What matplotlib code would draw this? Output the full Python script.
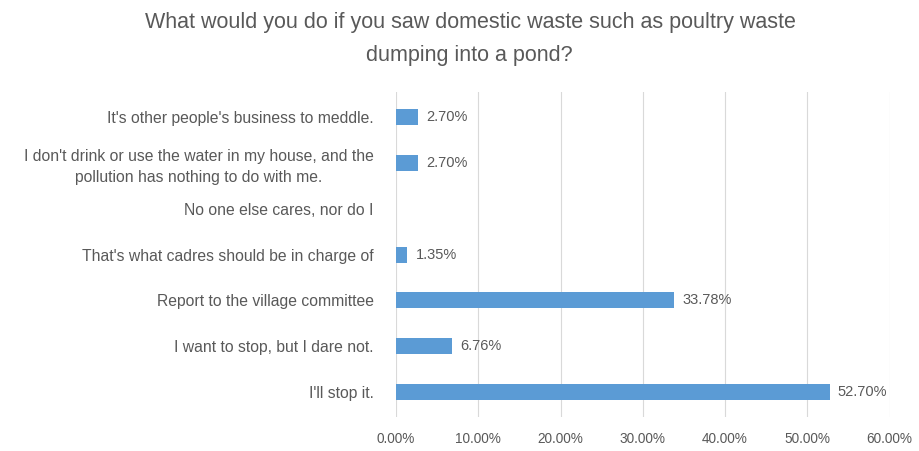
import matplotlib.pyplot as plt
from matplotlib.ticker import FuncFormatter

# respostas (de cima para baixo)
categorias = [
    "It's other people's business to meddle.",
    "I don't drink or use the water in my house, and the\npollution has nothing to do with me.",
    "No one else cares, nor do I",
    "That's what cadres should be in charge of",
    "Report to the village committee",
    "I want to stop, but I dare not.",
    "I'll stop it.",
]
valores = [2.70, 2.70, 0.0, 1.35, 33.78, 6.76, 52.70]
rotulos = ["2.70%", "2.70%", None, "1.35%", "33.78%", "6.76%", "52.70%"]

cinza = "#595959"
plt.rcParams['font.family'] = ['Liberation Sans', 'DejaVu Sans']

fig = plt.figure(figsize=(9.19, 4.51), dpi=100)
ax = fig.add_axes([0.431, 0.075, 0.537, 0.721])

y = range(len(categorias))
ax.barh(y, valores, height=0.35, color="#5B9BD5", zorder=3)
for i, (v, r) in enumerate(zip(valores, rotulos)):
    if r:
        ax.text(v + 1.0, i, r, va="center", ha="left", fontsize=10.5, color=cinza)

ax.set_yticks(list(y))
ax.set_yticklabels(categorias, fontsize=11.3, color=cinza, ha="right",
                   multialignment="center", linespacing=1.5)
ax.set_ylim(6.55, -0.55)
ax.set_xlim(0, 60)
ax.set_xticks(range(0, 61, 10))
ax.xaxis.set_major_formatter(FuncFormatter(lambda v, p: f"{v:.2f}%"))
ax.tick_params(axis="x", labelsize=9.8, colors=cinza, length=0, pad=11)
ax.tick_params(axis="y", length=0, pad=16)
ax.grid(axis="x", color="#D9D9D9", linewidth=0.8, zorder=0)
for s in ax.spines.values():
    s.set_visible(False)

fig.text(0.512, 0.951, "What would you do if you saw domestic waste such as poultry waste",
         ha="center", va="center", fontsize=15.5, color=cinza)
fig.text(0.511, 0.878, "dumping into a pond?", ha="center", va="center", fontsize=15.5, color=cinza)

fig.savefig("out.png", dpi=100)
